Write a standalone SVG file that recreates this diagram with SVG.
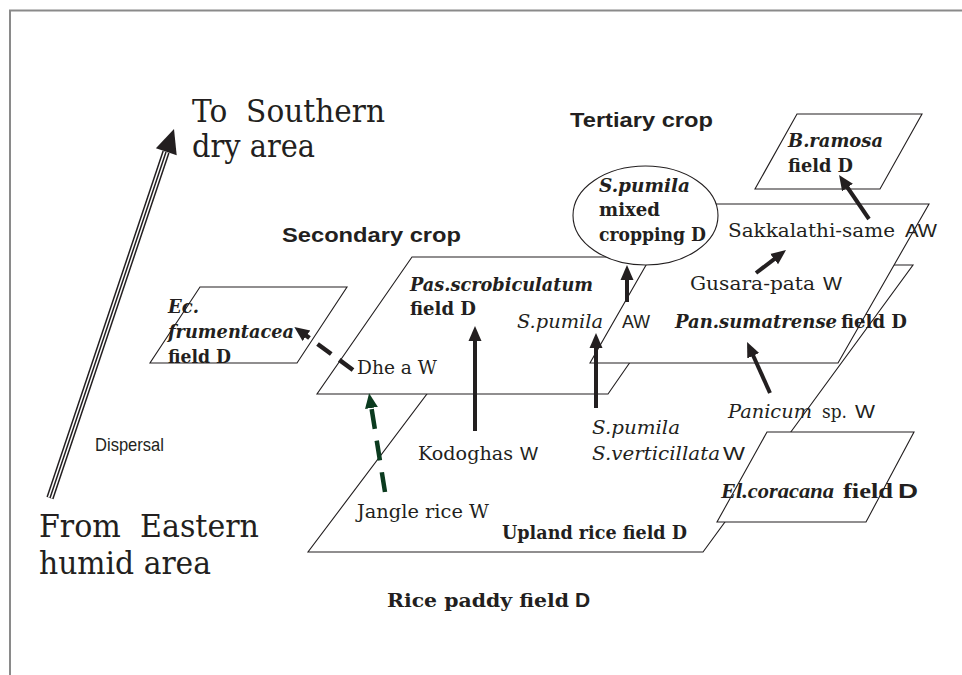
<svg xmlns="http://www.w3.org/2000/svg" width="962" height="675" viewBox="0 0 962 675">
<style>
.frame{fill:none;stroke:#8a8a8a;stroke-width:2}
.field{fill:#fff;stroke:#231f20;stroke-width:1.1}
.s{font-family:"DejaVu Serif","Liberation Serif",serif;fill:#231f20}
.ls{font-family:"Liberation Serif","Times New Roman",serif;fill:#231f20}
.ss{font-family:"Liberation Sans",Arial,sans-serif;fill:#231f20}
.b{font-weight:bold}
.i{font-style:italic}
.big{font-size:31px}
.m{font-size:18px}
.arr{stroke:#231f20;stroke-width:4;fill:none;marker-end:url(#ah)}
.dash{stroke:#231f20;stroke-width:4.5;fill:none;stroke-dasharray:17 10;marker-end:url(#ah)}
.gdash{stroke:#0b3b1f;stroke-width:4.5;fill:none;stroke-dasharray:20 12;marker-end:url(#ahg)}
</style>
<defs>
<marker id="ah" markerUnits="userSpaceOnUse" markerWidth="17" markerHeight="15" refX="3" refY="7.5" orient="auto">
<path d="M0,1 L15,7.5 L0,14 z" fill="#231f20"/>
</marker>
<marker id="ahg" markerUnits="userSpaceOnUse" markerWidth="17" markerHeight="15" refX="3" refY="7.5" orient="auto">
<path d="M0,1 L15,7.5 L0,14 z" fill="#0b3b1f"/>
</marker>
</defs>
<rect width="962" height="675" fill="#fff"/>
<path class="frame" d="M10,675 L10,10.5 L962,10.5"/>

<g id="upland-rice-field">
<polygon class="field" points="524,265 913,265 703,552 308,552"/>
<text class="s b m" x="502" y="539" textLength="185" lengthAdjust="spacingAndGlyphs">Upland rice field D</text>
</g>
<g id="pas-field">
<polygon class="field" points="412,257 703,257 608,394 317,394"/>
<text class="s b i m" x="410" y="291" textLength="183" lengthAdjust="spacingAndGlyphs">Pas.scrobiculatum</text>
<text class="s b m" x="410" y="315" textLength="66" lengthAdjust="spacingAndGlyphs">field D</text>
</g>
<g id="pan-field">
<polygon class="field" points="681,204 929,204 838,363 590,363"/>
<text class="s b i m" x="675" y="328" textLength="162" lengthAdjust="spacingAndGlyphs">Pan.sumatrense</text>
<text class="s b m" x="841" y="328" textLength="66" lengthAdjust="spacingAndGlyphs">field D</text>
</g>
<g id="ec-field">
<polygon class="field" points="200,287 347,287 297,363 150,363"/>
<text class="s b i m" x="168" y="313">Ec.</text>
<text class="s b i m" x="168" y="338" textLength="126" lengthAdjust="spacingAndGlyphs">frumentacea</text>
<text class="s b m" x="168" y="363" textLength="63" lengthAdjust="spacingAndGlyphs">field D</text>
</g>
<g id="el-field">
<polygon class="field" points="767,432 914,432 866,522 717,522"/>
<text class="ls b i" font-size="21" x="721" y="498" textLength="113" lengthAdjust="spacingAndGlyphs">El.coracana</text>
<text class="ls b" font-size="21" x="843" y="498" textLength="50" lengthAdjust="spacingAndGlyphs">field</text>
<text class="ss b" font-size="21" x="898" y="498" textLength="20" lengthAdjust="spacingAndGlyphs">D</text>
</g>
<g id="b-ramosa-field">
<polygon class="field" points="797,114 922,114 880,189 755,189"/>
<text class="s b i m" x="788" y="147" textLength="95" lengthAdjust="spacingAndGlyphs">B.ramosa</text>
<text class="s b m" x="788" y="172" textLength="65" lengthAdjust="spacingAndGlyphs">field D</text>
</g>
<g id="spumila-mixed">
<ellipse cx="645.5" cy="215.5" rx="72.5" ry="49.5" fill="#fff" stroke="#231f20" stroke-width="1.1"/>
<text class="s b i m" x="599" y="192" textLength="91" lengthAdjust="spacingAndGlyphs">S.pumila</text>
<text class="s b m" x="599" y="216" textLength="61" lengthAdjust="spacingAndGlyphs">mixed</text>
<text class="s b m" x="599" y="241" textLength="107" lengthAdjust="spacingAndGlyphs">cropping D</text>
</g>

<g id="labels">
<text class="s big" x="192" y="122" xml:space="preserve" textLength="193" lengthAdjust="spacingAndGlyphs">To  Southern</text>
<text class="s big" x="192" y="157" textLength="123" lengthAdjust="spacingAndGlyphs">dry area</text>
<text class="s big" x="39" y="537" xml:space="preserve" textLength="220" lengthAdjust="spacingAndGlyphs">From  Eastern</text>
<text class="s big" x="39" y="574" textLength="172" lengthAdjust="spacingAndGlyphs">humid area</text>
<text class="ss b" font-size="21" x="282" y="242" textLength="179" lengthAdjust="spacingAndGlyphs">Secondary crop</text>
<text class="ss b" font-size="20" x="570" y="127" textLength="143" lengthAdjust="spacingAndGlyphs">Tertiary crop</text>
<text class="ss" font-size="19" x="95" y="451" textLength="69" lengthAdjust="spacingAndGlyphs">Dispersal</text>
<text class="s b m" x="387" y="607" textLength="182" lengthAdjust="spacingAndGlyphs">Rice paddy field</text>
<text class="ss b" font-size="21" x="575" y="607">D</text>

<text class="s m" x="357" y="374" textLength="80" lengthAdjust="spacingAndGlyphs">Dhe a W</text>
<text class="s i m" x="517" y="328" textLength="86" lengthAdjust="spacingAndGlyphs">S.pumila</text>
<text class="ss m" x="622" y="328" textLength="28" lengthAdjust="spacingAndGlyphs">AW</text>
<text class="s m" x="728" y="237" textLength="167" lengthAdjust="spacingAndGlyphs">Sakkalathi-same</text>
<text class="ss m" x="905" y="237" textLength="32" lengthAdjust="spacingAndGlyphs">AW</text>
<text class="s m" x="690" y="290" textLength="125" lengthAdjust="spacingAndGlyphs">Gusara-pata</text>
<text class="ss m" x="823" y="290" textLength="19" lengthAdjust="spacingAndGlyphs">W</text>
<text class="s i m" x="728" y="418" textLength="84" lengthAdjust="spacingAndGlyphs">Panicum</text>
<text class="s m" x="822" y="418" textLength="25" lengthAdjust="spacingAndGlyphs">sp.</text>
<text class="ss m" x="855" y="418" textLength="20" lengthAdjust="spacingAndGlyphs">W</text>
<text class="s i m" x="592" y="434" textLength="88" lengthAdjust="spacingAndGlyphs">S.pumila</text>
<text class="s i m" x="592" y="460" textLength="128" lengthAdjust="spacingAndGlyphs">S.verticillata</text>
<text class="ss m" x="723" y="460" textLength="22" lengthAdjust="spacingAndGlyphs">W</text>
<text class="s m" x="418" y="460" textLength="95" lengthAdjust="spacingAndGlyphs">Kodoghas</text>
<text class="ss m" x="520" y="460" textLength="18" lengthAdjust="spacingAndGlyphs">W</text>
<text class="s m" x="357" y="518" textLength="132" lengthAdjust="spacingAndGlyphs">Jangle rice W</text>
</g>

<g id="connectors">
<line x1="50" y1="498" x2="166" y2="152" stroke="#231f20" stroke-width="7.5"/>
<line x1="50" y1="498" x2="166" y2="152" stroke="#fff" stroke-width="4.5"/>
<line x1="50" y1="498" x2="166" y2="152" stroke="#231f20" stroke-width="1.5"/>
<polygon points="174,129 155.9,148.2 176.7,155.2" fill="#231f20"/>
<line class="arr" x1="475" y1="431" x2="475" y2="338"/>
<line class="arr" x1="596" y1="408" x2="596" y2="345"/>
<line class="arr" x1="627" y1="302" x2="627" y2="277"/>
<line class="arr" x1="756" y1="273" x2="776.5" y2="257.3"/>
<line class="arr" x1="869" y1="219" x2="845.8" y2="185"/>
<line class="arr" x1="770" y1="393" x2="752" y2="353"/>
<line class="dash" x1="353" y1="370" x2="304" y2="334"/>
<line class="gdash" x1="385" y1="492" x2="371" y2="405"/>
</g>
</svg>
